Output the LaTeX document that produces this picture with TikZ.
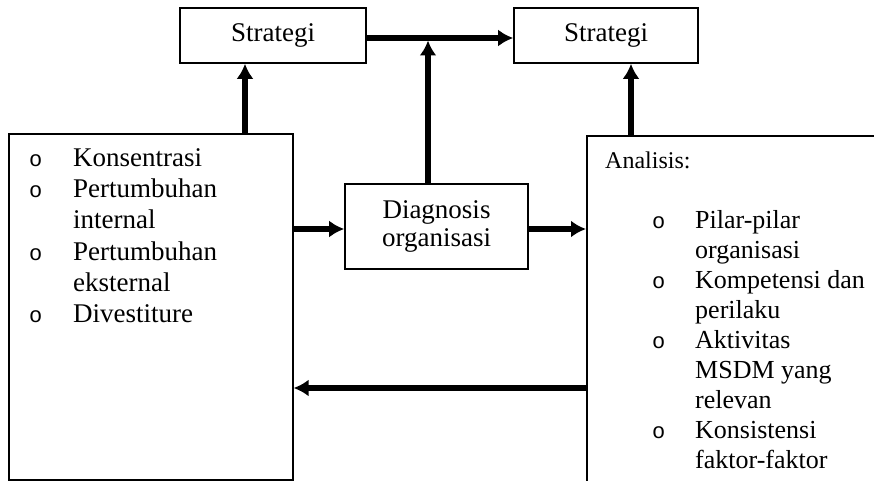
\documentclass[tikz,border=0pt]{standalone}
\usepackage{fontspec}
\setmainfont{Liberation Serif}
\newfontfamily\bulletfont{Liberation Mono}
\usetikzlibrary{arrows.meta}

\begin{document}
\begin{tikzpicture}[x=1pt,y=-1pt,
    box/.style={draw,line width=1.6pt,inner sep=0pt},
    flow/.style={line width=5.5pt,-{Latex[length=15pt,width=17pt]}},
    bigtext/.style={font=\fontsize{27}{28}\selectfont},
    listtext/.style={anchor=base west,inner sep=0pt,align=left}]
\def\Bul{{\bulletfont\fontsize{22}{22}\selectfont o}}
\useasboundingbox (0,0) rectangle (874,481);
\clip (0,0) rectangle (874,481);

% boxes
\node[box,minimum width=186pt,minimum height=55pt,bigtext] (strat1) at (273,35.5) {Strategi};
\node[box,minimum width=184pt,minimum height=55pt,bigtext] (strat2) at (606,35.5) {Strategi};
\node[box,minimum width=183pt,minimum height=85pt,align=center,
      font=\fontsize{27}{28}\selectfont] (diag) at (436.5,226.5) {Diagnosis\\organisasi};
\node[box,anchor=north west,minimum width=284pt,minimum height=346pt] (konsep) at (8,133) {};
\node[box,anchor=north west,minimum width=320pt,minimum height=360pt] (analisis) at (586,135) {};

% texts
\node[listtext,font=\fontsize{27}{31}\selectfont] (kiri) at (29,167) {%
  \begin{tabular}[t]{@{}p{44pt}@{}l@{}}
  \Bul & Konsentrasi\\
  \Bul & Pertumbuhan\\
       & internal\\
  \Bul & Pertumbuhan\\
       & eksternal\\
  \Bul & Divestiture
  \end{tabular}};
\node[listtext,font=\fontsize{24}{24}\selectfont] (judul) at (605,168) {Analisis:};
\node[listtext,font=\fontsize{26}{30}\selectfont] (kanan) at (652,228) {%
  \begin{tabular}[t]{@{}p{43pt}@{}l@{}}
  \Bul & Pilar-pilar\\
       & organisasi\\
  \Bul & Kompetensi dan\\
       & perilaku\\
  \Bul & Aktivitas\\
       & MSDM yang\\
       & relevan\\
  \Bul & Konsistensi\\
       & faktor-faktor
  \end{tabular}};

% connectors
\coordinate (jalur) at (366,38);
\coordinate (kiriatas) at (245,133);
\coordinate (diagatas) at (428,184);
\coordinate (kananatas) at (631,135);
\coordinate (masuk) at (292,229);
\coordinate (balik) at (586,388);

\draw[flow] (jalur) -- (jalur -| strat2.west);
\draw[flow] (kiriatas) -- (kiriatas |- strat1.south);
\draw[flow,shorten >=2.5pt] (diagatas) -- (diagatas |- jalur);
\draw[flow] (kananatas) -- (kananatas |- strat2.south);
\draw[flow] (masuk) -- (masuk -| diag.west);
\draw[flow] (masuk -| diag.east) -- (masuk -| analisis.west);
\draw[flow] (balik) -- (balik -| konsep.east);

\end{tikzpicture}
\end{document}
